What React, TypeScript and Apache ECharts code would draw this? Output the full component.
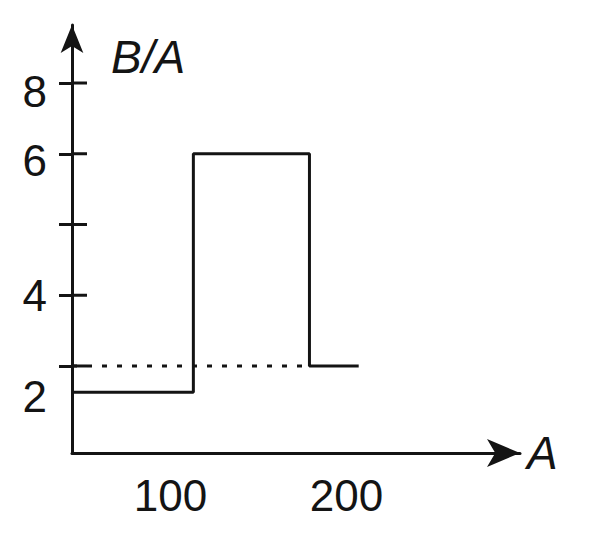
import { useEffect, useRef } from "react";
import * as echarts from "echarts";

// Mass number A where the B/A level changes (start of axis, jumps, end of plot)
const massNumbers = [44, 113, 179, 207];
// B/A levels between those boundaries (sketch units of the drawing's vertical scale)
const stepLevels = [0.63, 4, 1];
// dotted reference level and where it stops
const dottedLevel = 1;
const dottedStart = 44;
const dottedEnd = 179;
// axis ticks / labels
const xLabelValues = [100, 200];
const yTickLevels = [1, 2, 3, 4, 5];
const yLabelLevels = [4.886, 3.91, 1.99, 0.575];
const yLabelTexts = ["8", "6", "4", "2"];

const INK = "#141414";
const FONT = "'Liberation Sans', Arial, Helvetica, sans-serif";

export default function App() {
  const ref = useRef<HTMLDivElement>(null);

  useEffect(() => {
    document.body.style.margin = "0";
    const el = ref.current;
    if (!el) return;
    const chart = echarts.init(el, null, { renderer: "svg" });

    const xMin = 44;
    const xMax = 298.7;
    const yMin = -0.23;
    const yMax = 5.82;

    const stepPoints: number[][] = [];
    stepLevels.forEach((lvl, i) => {
      stepPoints.push([massNumbers[i], lvl]);
      stepPoints.push([massNumbers[i + 1], lvl]);
    });
    const dottedPoints = [
      [dottedStart, dottedLevel],
      [dottedEnd, dottedLevel],
    ];

    const yLabel = (v: number) => {
      let best = 0;
      let d = Infinity;
      yLabelLevels.forEach((lv, i) => {
        const dd = Math.abs(lv - v);
        if (dd < d) {
          d = dd;
          best = i;
        }
      });
      return yLabelTexts[best];
    };

    chart.setOption({
      animation: false,
      backgroundColor: "#ffffff",
      grid: { left: 72, right: 84, top: 25, bottom: 89, outerBoundsMode: "none" },
      xAxis: {
        type: "value",
        min: xMin,
        max: xMax,
        name: "A",
        nameLocation: "end",
        nameGap: 7,
        nameMoveOverlap: false,
        nameTextStyle: {
          fontFamily: FONT,
          fontStyle: "italic",
          fontSize: 46,
          color: INK,
          align: "left",
          verticalAlign: "middle",
        },
        axisLine: {
          show: true,
          onZero: false,
          symbol: ["none", "arrow"],
          symbolSize: [21, 33],
          lineStyle: { color: INK, width: 3 },
        },
        axisTick: { show: false },
        splitLine: { show: false },
        axisLabel: {
          customValues: xLabelValues,
          fontFamily: FONT,
          fontSize: 44,
          color: INK,
          margin: 20,
        },
      },
      yAxis: {
        type: "value",
        position: "left",
        min: yMin,
        max: yMax,
        name: "B/A",
        nameLocation: "end",
        nameGap: -32,
        nameMoveOverlap: false,
        nameTextStyle: {
          fontFamily: FONT,
          fontStyle: "italic",
          fontSize: 46,
          color: INK,
          align: "left",
          verticalAlign: "middle",
          padding: [0, 0, 0, 39],
        },
        axisLine: {
          show: true,
          onZero: false,
          symbol: ["none", "arrow"],
          symbolSize: [17, 28],
          lineStyle: { color: INK, width: 3 },
        },
        axisTick: {
          show: true,
          customValues: yTickLevels,
          inside: false,
          length: 13,
          lineStyle: { color: INK, width: 3 },
        },
        axisLabel: {
          customValues: yLabelLevels,
          formatter: yLabel,
          fontFamily: FONT,
          fontSize: 44,
          color: INK,
          margin: 25,
        },
        splitLine: { show: false },
      },
      series: [
        {
          type: "line",
          name: "dotted",
          data: dottedPoints,
          symbol: "none",
          lineStyle: { color: INK, width: 3, type: [5, 10] },
          z: 2,
        },
        {
          type: "line",
          name: "B/A",
          data: stepPoints,
          symbol: "none",
          lineStyle: { color: INK, width: 3 },
          z: 3,
        },
      ],
    });

    // right-hand halves of the crossing tick marks, placed through the axis scale
    const halves = yTickLevels.map((lvl) => {
      const p = chart.convertToPixel({ gridIndex: 0 }, [xMin, lvl]) as number[];
      return {
        type: "line",
        z: 100,
        silent: true,
        shape: { x1: p[0], y1: p[1], x2: p[0] + 15, y2: p[1] },
        style: { stroke: INK, lineWidth: 3 },
      };
    });
    chart.setOption({ graphic: { elements: halves } });

    return () => chart.dispose();
  }, []);

  return <div ref={ref} style={{ width: 604, height: 542 }} />;
}
